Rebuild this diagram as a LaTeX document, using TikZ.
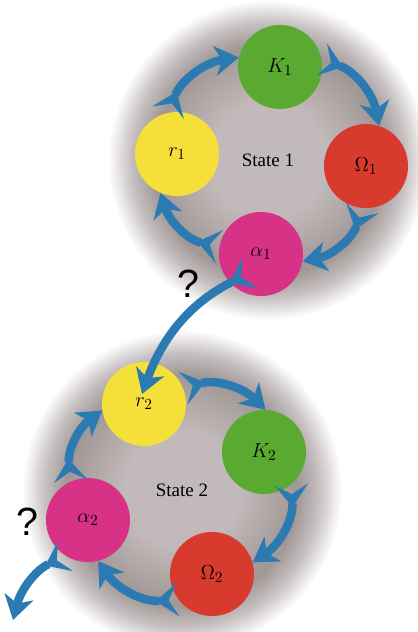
\documentclass[tikz,border=0pt]{standalone}
\usepackage{fontspec}
\setmainfont{Liberation Serif}
\newfontfamily\askfont{Liberation Sans}
\usetikzlibrary{arrows.meta,positioning}

\definecolor{hazein}{RGB}{194,186,186}
\definecolor{hazerim}{RGB}{160,150,150}
\definecolor{hazeout}{RGB}{200,193,193}
\definecolor{kgreen}{RGB}{90,170,50}
\definecolor{ored}{RGB}{216,58,46}
\definecolor{ryellow}{RGB}{245,224,58}
\definecolor{amag}{RGB}{216,50,135}
\definecolor{flowblue}{RGB}{44,122,178}

\pgfdeclareradialshading{haze}{\pgfpoint{0bp}{0bp}}{color(0bp)=(hazein); color(9bp)=(hazein); color(18bp)=(hazerim); color(21.5bp)=(hazeout); color(25bp)=(white); color(50bp)=(white)}

\begin{document}
\begin{tikzpicture}[
  x=0.025cm,y=-0.025cm,
  state/.style={circle,minimum size=8cm,inner sep=0pt,shading=haze,font=\fontsize{13.5}{16}\selectfont},
  var/.style={circle,minimum size=2.1cm,inner sep=0pt,font=\fontsize{15}{17}\selectfont},
  flow/.style={line width=6pt,draw=flowblue,
    {Stealth[reversed,length=16pt,width=24pt,inset=7pt]}-{Stealth[length=17pt,width=21pt,inset=5pt]}},
  ask/.style={font=\askfont\fontsize{28}{30}\selectfont}
]
  \useasboundingbox (0,0) rectangle (417,632);

  % the two states
  \node[state] (s1) at (268,160) {State 1};
  \node[state] (s2) at (182,490) {State 2};

  \node[var,fill=kgreen]  (k1) at ([shift={(12,-93)}]s1.center) {$K_1$};
  \node[var,fill=ored]    (o1) at ([shift={(98,6)}]s1.center)   {$\Omega_1$};
  \node[var,fill=amag]    (a1) at ([shift={(-7,94)}]s1.center)  {$\alpha_1$};
  \node[var,fill=ryellow] (r1) at ([shift={(-91,-6)}]s1.center) {$r_1$};

  \node[var,fill=ryellow] (r2) at ([shift={(-38,-86)}]s2.center) {$r_2$};
  \node[var,fill=kgreen]  (k2) at ([shift={(82,-38)}]s2.center)  {$K_2$};
  \node[var,fill=ored]    (o2) at ([shift={(30,84)}]s2.center)   {$\Omega_2$};
  \node[var,fill=amag]    (a2) at ([shift={(-94,30)}]s2.center)  {$\alpha_2$};

  \node[ask] (q1) at (188,284) {?};
  \node[ask] (q2) at (27,522) {?};
  \coordinate (out) at (13,620);

  % cycle of state 1
  \draw[flow] (r1.102) to[bend left=30] (k1.167);
  \draw[flow] (k1.10)  to[bend left=30] (o1.72);
  \draw[flow] (o1.265) to[bend left=30] (a1.350);
  \draw[flow] (a1.170) to[bend left=30] (r1.247);

  % from state 1 to state 2
  \draw[flow] ([shift={(-11,19)}]a1.center) to[bend right=22] ([shift={(-2,-10)}]r2.center);

  % cycle of state 2
  \draw[flow] (r2.22)  to[bend left=30] (k2.88);
  \draw[flow] (k2.310) to[bend left=30] (o2.16);
  \draw[flow] (o2.217) to[bend left=30] (a2.284);
  \draw[flow] (a2.114) to[bend left=30] (r2.189);

  \draw[flow] (a2.238) to[bend right=25] (out);
\end{tikzpicture}
\end{document}
